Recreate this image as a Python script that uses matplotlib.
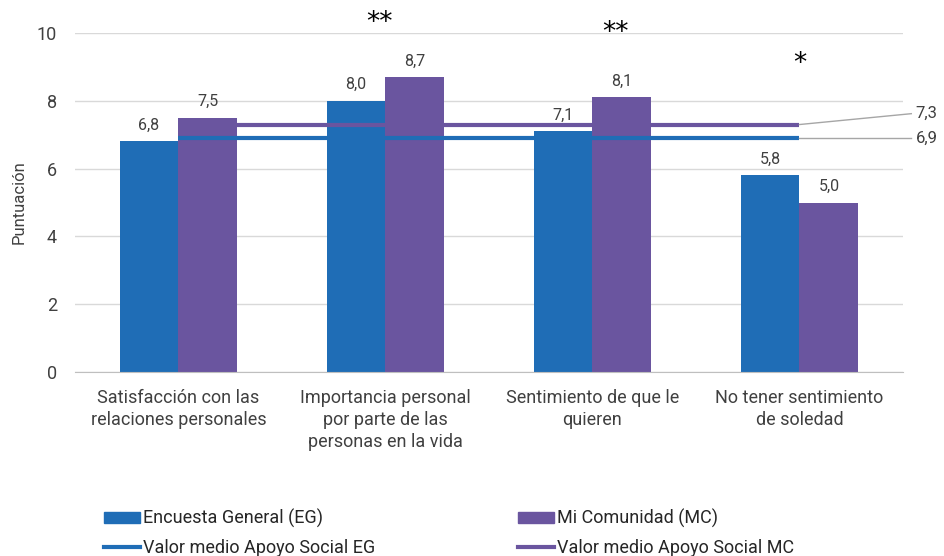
import matplotlib
matplotlib.use("Agg")
import matplotlib.pyplot as plt
import numpy as np
from matplotlib.patches import Patch
from matplotlib.lines import Line2D

categories = [
    "Satisfacción con las\nrelaciones personales",
    "Importancia personal\npor parte de las\npersonas en la vida",
    "Sentimiento de que le\nquieren",
    "No tener sentimiento\nde soledad",
]
eg_values = [6.8, 8.0, 7.1, 5.8]
mc_values = [7.5, 8.7, 8.1, 5.0]
eg_mean = 6.9
mc_mean = 7.3
significance = ["", "**", "**", "*"]
yticks = [0, 2, 4, 6, 8, 10]

blue = "#1F6DB6"
purple = "#6A559F"
text_color = "#404040"

plt.rcParams["font.family"] = ["Roboto", "DejaVu Sans"]

fig = plt.figure(figsize=(9.45, 5.56), dpi=100)
ax = fig.add_axes([75 / 945, 1 - 372 / 556, 828 / 945, 339 / 556])

x = np.arange(len(categories))
w = 0.285
ax.bar(x - w / 2, eg_values, width=w, color=blue, zorder=2)
ax.bar(x + w / 2, mc_values, width=w, color=purple, zorder=2)

def fmt(v):
    return f"{v:.1f}".replace(".", ",")

for xi, v in zip(x, eg_values):
    ax.text(xi - w / 2, v + 0.25, fmt(v), ha="center", va="bottom",
            fontsize=11.5, color=text_color)
for xi, v in zip(x, mc_values):
    ax.text(xi + w / 2, v + 0.25, fmt(v), ha="center", va="bottom",
            fontsize=11.5, color=text_color)

# Mean lines across the category centres
ax.plot([x[0], x[-1]], [mc_mean, mc_mean], color=purple, lw=3, zorder=3,
        solid_capstyle="butt")
ax.plot([x[0], x[-1]], [eg_mean, eg_mean], color=blue, lw=3, zorder=3,
        solid_capstyle="butt")

# Leader lines to the mean labels
lx = 3.54
ax.plot([x[-1], lx], [mc_mean, mc_mean + 0.32], color="#A6A6A6", lw=1,
        clip_on=False, zorder=3)
ax.plot([x[-1], lx], [eg_mean, eg_mean], color="#A6A6A6", lw=1,
        clip_on=False, zorder=3)
ax.text(lx + 0.02, mc_mean + 0.32, fmt(mc_mean), ha="left", va="center",
        fontsize=12, color=text_color, clip_on=False)
ax.text(lx + 0.02, eg_mean, fmt(eg_mean), ha="left", va="center",
        fontsize=12, color=text_color, clip_on=False)

# Significance marks
star_pos = {1: (-0.03, 10.3), 2: (0.11, 10.0), 3: (0.0, 9.1)}
for i, s in enumerate(significance):
    if s:
        dx, yy = star_pos[i]
        ax.text(x[i] + dx, yy, s, ha="center", va="center", fontsize=19,
                color="black", clip_on=False, fontfamily="DejaVu Sans")

ax.set_xlim(-0.5, 3.5)
ax.set_ylim(0, 10)
ax.set_yticks(yticks)
ax.set_yticklabels([str(t) for t in yticks], fontsize=13, color=text_color)
ax.set_xticks(x)
ax.set_xticklabels(categories, fontsize=13, color=text_color, linespacing=1.3)
ax.tick_params(axis="both", length=0)
ax.tick_params(axis="y", pad=13)
ax.tick_params(axis="x", pad=12)
ax.grid(axis="y", color="#D9D9D9", lw=1, zorder=0)
ax.set_axisbelow(True)
for side in ["top", "right", "left"]:
    ax.spines[side].set_visible(False)
ax.spines["bottom"].set_color("#BFBFBF")
ax.set_ylabel("Puntuación", fontsize=12, color=text_color, labelpad=7)

handles = [
    Patch(color=blue, label="Encuesta General (EG)"),
    Line2D([], [], color=blue, lw=3, label="Valor medio Apoyo Social EG"),
    Patch(color=purple, label="Mi Comunidad (MC)"),
    Line2D([], [], color=purple, lw=3, label="Valor medio Apoyo Social MC"),
]
leg = fig.legend(handles=handles, ncol=2, loc="upper left",
                 bbox_to_anchor=(97 / 945, 1 - 502 / 556), frameon=False,
                 fontsize=13, handlelength=2.0, handleheight=0.6,
                 handletextpad=0.15, columnspacing=7.9, labelspacing=0.6,
                 borderaxespad=0)
for t in leg.get_texts():
    t.set_color("#262626")

fig.savefig("out.png", dpi=100)
